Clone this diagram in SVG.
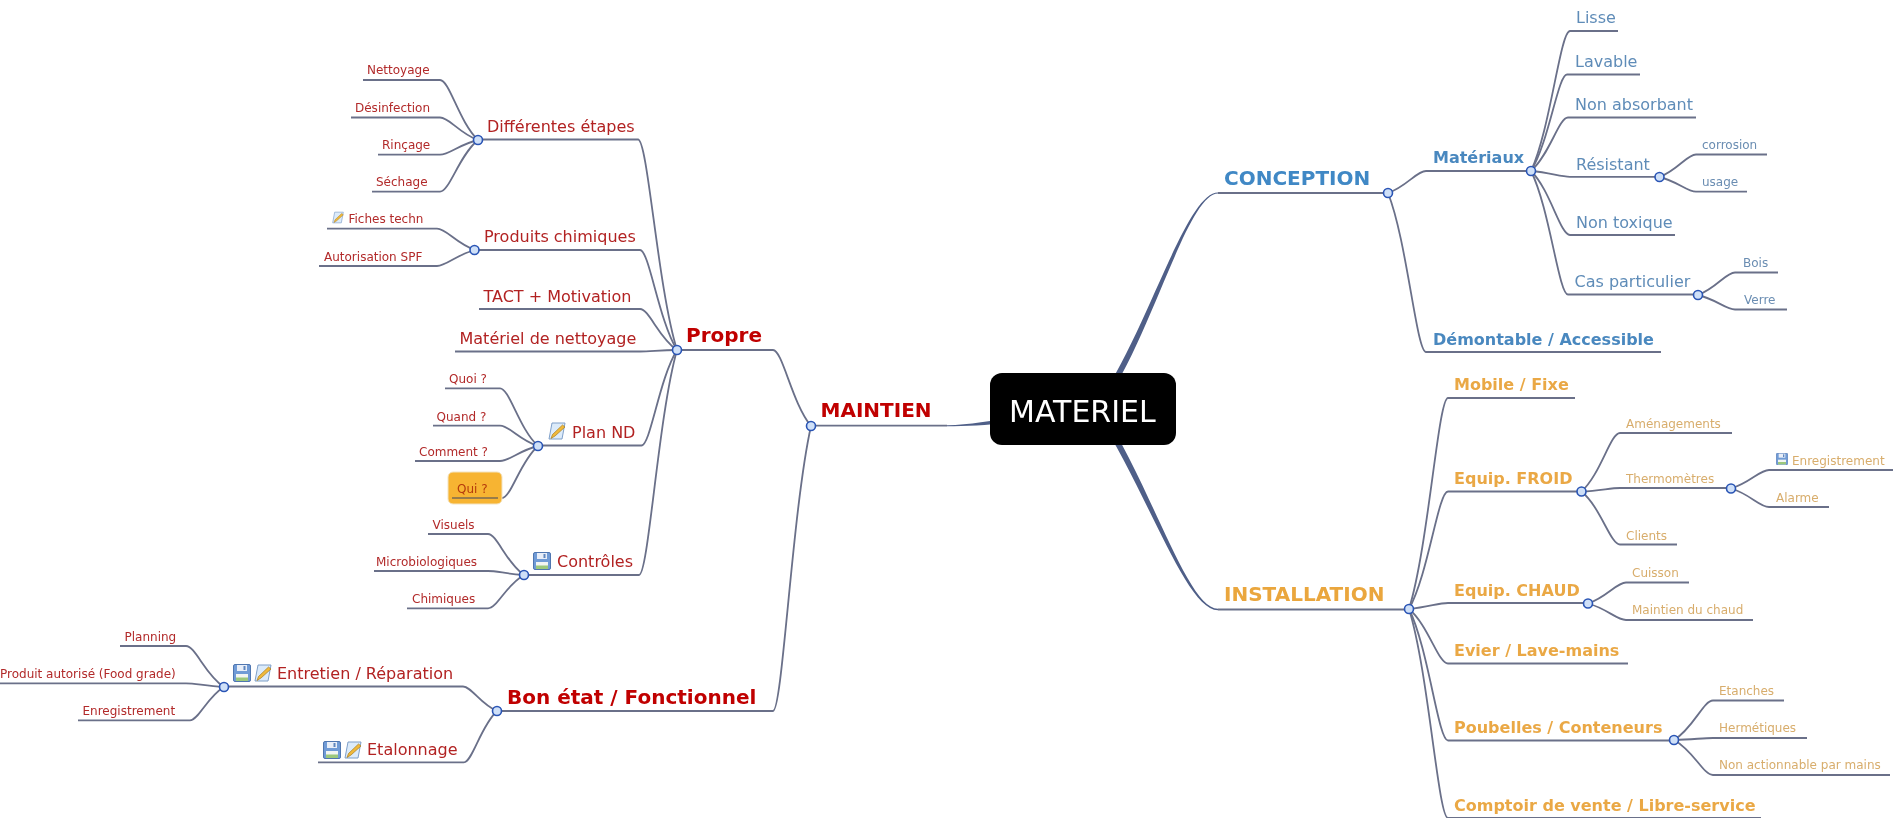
<svg xmlns="http://www.w3.org/2000/svg" width="1893" height="822" viewBox="0 0 1893 822">
<style>
text{font-family:"DejaVu Sans",Verdana,sans-serif;white-space:pre}
.c{fill:none;stroke:#6a7089;stroke-width:1.8}
.t{fill:#4f5f88;stroke:none}
.d{fill:#cfe0f8;stroke:#2a55b5;stroke-width:1.6}
.b1{font-size:20px;font-weight:bold;fill:#3f88c5}.b2{font-size:16px;font-weight:bold;fill:#4a88bf}.b3{font-size:16px;fill:#5f8cb8}.b4{font-size:12px;fill:#6a8db2}
.o1{font-size:20px;font-weight:bold;fill:#eaa63c}.o2{font-size:16px;font-weight:bold;fill:#eaa845}.o4{font-size:12px;fill:#d8ad6c}
.r1{font-size:20px;font-weight:bold;fill:#c00000}.r3{font-size:16px;fill:#b22222}.r4{font-size:12px;fill:#b22a2a}
</style>
<defs>
<filter id="soft" x="0" y="0" width="100%" height="100%" filterUnits="objectBoundingBox"><feGaussianBlur stdDeviation="0.35"/></filter>
<symbol id="save" viewBox="0 0 18 18"><rect x="0.5" y="0.5" width="17" height="17" rx="1.5" fill="#6f9bd6" stroke="#4f76b0"/><rect x="4" y="1" width="10" height="6" fill="#e8eef8"/><rect x="10.5" y="2" width="2" height="4" fill="#5f86bd"/><rect x="3" y="10" width="12" height="7" fill="#f2f5f2"/><rect x="3" y="13.5" width="12" height="3.5" fill="#9cc87c"/></symbol>
<symbol id="note" viewBox="0 0 18 18"><path d="M4 1H17L14 17H1Z" fill="#dcebfa" stroke="#7f9fc8"/><path d="M17 5 L7 14 L3 16.5 L4.5 12.5 L14.5 3Z" fill="#f0b93a" stroke="#a87c20" stroke-width=".7"/></symbol>
</defs>
<rect width="1893" height="822" fill="#fff"/>
<g filter="url(#soft)">
<g id="connectors">
<path class="t" d="M1094,408C1145.5,338.5 1185,192.5 1218,192.5L1218,193.5C1187,193.5 1150.5,341.5 1100,410Z"/>
<path class="t" d="M1094,410C1145.5,485.5 1185,610.2 1218,610.2L1218,608.8C1187,608.8 1150.5,482.5 1100,408Z"/>
<path class="t" d="M1083,419C1016,421 983,427 947,426.2L947,425.2C983,425 1016,413 1083,414Z"/>
<path class="c" d="M1218,193H1388M1218,609.5H1409M947,425.7H811"/>
<path class="c" d="M1388,193C1407,186.4 1416.5,171 1426,171H1531"/>
<path class="c" d="M1388,193C1407,240.7 1416.5,352 1426,352H1661"/>
<path class="c" d="M1409,609C1428.5,545.7 1438.2,398 1448,398H1575"/>
<path class="c" d="M1409,609C1428.5,573.7 1438.2,491.5 1448,491.5H1581"/>
<path class="c" d="M1409,609C1428.5,607.2 1438.2,603 1448,603H1588"/>
<path class="c" d="M1409,609C1428.5,625.4 1438.2,663.5 1448,663.5H1628"/>
<path class="c" d="M1409,609C1428.5,648.5 1438.2,740.5 1448,740.5H1674"/>
<path class="c" d="M1409,609C1428.5,671.7 1438.2,818 1448,818H1761"/>
<path class="c" d="M1531,171C1550.5,129 1560.2,31 1570,31H1618"/>
<path class="c" d="M1531,171C1549,142 1558,74.5 1567,74.5H1640"/>
<path class="c" d="M1531,171C1549.5,155 1558.8,117.5 1568,117.5H1696"/>
<path class="c" d="M1531,171C1550.5,172.7 1560.2,176.8 1570,176.8H1659"/>
<path class="c" d="M1531,171C1550.5,190.2 1560.2,235 1570,235H1675"/>
<path class="c" d="M1531,171C1549.5,208 1558.8,294.5 1568,294.5H1698"/>
<path class="c" d="M1659.5,177C1677.8,170.2 1686.9,154.5 1696,154.5H1767"/>
<path class="c" d="M1659.5,177C1677.8,181.4 1686.9,191.7 1696,191.7H1747"/>
<path class="c" d="M1698,295C1716.5,288.2 1725.8,272.5 1735,272.5H1778"/>
<path class="c" d="M1698,295C1716.5,299.4 1725.8,309.5 1735,309.5H1787"/>
<path class="c" d="M1581.5,491.5C1600.8,474 1610.4,433 1620,433H1732"/>
<path class="c" d="M1581.5,491.5C1600.8,490.5 1610.4,488 1620,488H1731"/>
<path class="c" d="M1581.5,491.5C1600.8,507.4 1610.4,544.5 1620,544.5H1677"/>
<path class="c" d="M1731,488.5C1750,483 1759.5,470 1769,470H1893"/>
<path class="c" d="M1731,488.5C1750,494 1759.5,507 1769,507H1829"/>
<path class="c" d="M1588,603.5C1607,597.2 1616.5,582.5 1626,582.5H1689"/>
<path class="c" d="M1588,603.5C1607,608.5 1616.5,620 1626,620H1753"/>
<path class="c" d="M1674,740C1693.5,728.2 1703.2,700.5 1713,700.5H1784"/>
<path class="c" d="M1674,740C1693.5,739.4 1703.2,738 1713,738H1807"/>
<path class="c" d="M1674,740C1693.5,750.5 1703.2,775 1713,775H1890"/>
<path class="c" d="M811,426C792,403.2 782.5,350 773,350H677"/>
<path class="c" d="M811,426C792,511.5 782.5,711 773,711H497"/>
<path class="c" d="M677,350C657.5,286.9 647.8,139.5 638,139.5H478"/>
<path class="c" d="M677,350C658.5,320 649.2,250 640,250H475"/>
<path class="c" d="M677,350C658.5,337.7 649.2,309 640,309H479"/>
<path class="c" d="M677,350C658.5,350.5 649.2,351.5 640,351.5H455"/>
<path class="c" d="M677,350C659.2,378.6 650.4,445.5 641.5,445.5H538"/>
<path class="c" d="M677,350C658,417.5 648.5,575 639,575H524"/>
<path class="c" d="M478,140C459,122 449.5,80 440,80H363"/>
<path class="c" d="M478,140C459,133.2 449.5,117.5 440,117.5H351"/>
<path class="c" d="M478,140C459,144.4 449.5,154.7 440,154.7H378"/>
<path class="c" d="M478,140C459,155.5 449.5,191.7 440,191.7H372"/>
<path class="c" d="M475,250C456,243.6 446.5,228.7 437,228.7H327"/>
<path class="c" d="M475,250C456,254.8 446.5,266 437,266H319"/>
<path class="c" d="M538,446C519,428.7 509.5,388.3 500,388.3H445"/>
<path class="c" d="M538,446C519,439.9 509.5,425.7 500,425.7H433"/>
<path class="c" d="M538,446C519,450.5 509.5,461 500,461H415"/>
<path class="c" d="M538,446C520,461.6 511,498 502,498"/>
<path class="c" d="M524,575C506,562.7 497,534 488,534H428"/>
<path class="c" d="M524,575C506,573.8 497,571 488,571H374"/>
<path class="c" d="M524,575C506,585 497,608.3 488,608.3H407"/>
<path class="c" d="M497,711C480,703.6 471.5,686.5 463,686.5H224"/>
<path class="c" d="M497,711C480.5,726.4 472.2,762.3 464,762.3H318"/>
<path class="c" d="M224,687C205,674.7 195.5,646 186,646H120"/>
<path class="c" d="M224,687C205,685.9 195.5,683.3 186,683.3H0"/>
<path class="c" d="M224,687C207,697 198.5,720.3 190,720.3H78"/>
</g>
<g id="root"><rect x="990" y="373" width="186" height="72" rx="12" fill="#000"/><text x="1009" y="422" font-size="30" fill="#fff">MATERIEL</text></g>
<g id="conception"><text class="b1" x="1224" y="185">CONCEPTION</text><circle class="d" cx="1388" cy="193" r="4.5"/></g>
<g id="materiaux"><text class="b2" x="1433" y="163">Matériaux</text><circle class="d" cx="1531" cy="171" r="4.5"/></g>
<g id="lisse"><text class="b3" x="1576" y="23">Lisse</text></g>
<g id="lavable"><text class="b3" x="1575" y="67">Lavable</text></g>
<g id="non-absorbant"><text class="b3" x="1575" y="110">Non absorbant</text></g>
<g id="resistant"><text class="b3" x="1576" y="170">Résistant</text><circle class="d" cx="1659.5" cy="177" r="4.5"/></g>
<g id="corrosion"><text class="b4" x="1702" y="149">corrosion</text></g>
<g id="usage"><text class="b4" x="1702" y="186">usage</text></g>
<g id="non-toxique"><text class="b3" x="1576" y="228">Non toxique</text></g>
<g id="cas"><text class="b3" x="1574.5" y="287">Cas particulier</text><circle class="d" cx="1698" cy="295" r="4.5"/></g>
<g id="bois"><text class="b4" x="1743" y="267">Bois</text></g>
<g id="verre"><text class="b4" x="1744" y="304">Verre</text></g>
<g id="demontable"><text class="b2" x="1433" y="345">Démontable / Accessible</text></g>
<g id="installation"><text class="o1" x="1224" y="601">INSTALLATION</text><circle class="d" cx="1409" cy="609" r="4.5"/></g>
<g id="mobile"><text class="o2" x="1454" y="390">Mobile / Fixe</text></g>
<g id="froid"><text class="o2" x="1454" y="484">Equip. FROID</text><circle class="d" cx="1581.5" cy="491.5" r="4.5"/></g>
<g id="amenagements"><text class="o4" x="1626" y="428">Aménagements</text></g>
<g id="thermometres"><text class="o4" x="1626" y="483">Thermomètres</text><circle class="d" cx="1731" cy="488.5" r="4.5"/></g>
<g id="enreg-o"><use href="#save" x="1776" y="453" width="12" height="12"/><text class="o4" x="1792" y="465">Enregistrement</text></g>
<g id="alarme"><text class="o4" x="1776" y="502">Alarme</text></g>
<g id="clients"><text class="o4" x="1626" y="540">Clients</text></g>
<g id="chaud"><text class="o2" x="1454" y="596">Equip. CHAUD</text><circle class="d" cx="1588" cy="603.5" r="4.5"/></g>
<g id="cuisson"><text class="o4" x="1632" y="577">Cuisson</text></g>
<g id="maintien-chaud"><text class="o4" x="1632" y="614">Maintien du chaud</text></g>
<g id="evier"><text class="o2" x="1454" y="656">Evier / Lave-mains</text></g>
<g id="poubelles"><text class="o2" x="1454" y="733">Poubelles / Conteneurs</text><circle class="d" cx="1674" cy="740" r="4.5"/></g>
<g id="etanches"><text class="o4" x="1719" y="695">Etanches</text></g>
<g id="hermetiques"><text class="o4" x="1719" y="732">Hermétiques</text></g>
<g id="non-actionnable"><text class="o4" x="1719" y="769">Non actionnable par mains</text></g>
<g id="comptoir"><text class="o2" x="1454" y="810.5">Comptoir de vente / Libre-service</text></g>
<g id="maintien"><text class="r1" x="820.5" y="417">MAINTIEN</text><circle class="d" cx="811" cy="426" r="4.5"/></g>
<g id="propre"><text class="r1" x="686" y="342">Propre</text><circle class="d" cx="677" cy="350" r="4.5"/></g>
<g id="etapes"><text class="r3" x="487" y="132">Différentes étapes</text><circle class="d" cx="478" cy="140" r="4.5"/></g>
<g id="nettoyage"><text class="r4" x="367" y="74">Nettoyage</text></g>
<g id="desinfection"><text class="r4" x="355" y="111.5">Désinfection</text></g>
<g id="rincage"><text class="r4" x="382" y="149">Rinçage</text></g>
<g id="sechage"><text class="r4" x="376" y="186">Séchage</text></g>
<g id="produits"><text class="r3" x="484" y="242">Produits chimiques</text><circle class="d" cx="474.5" cy="250" r="4.5"/></g>
<g id="fiches"><use href="#note" x="332" y="211" width="12" height="13"/><text class="r4" x="348.5" y="223">Fiches techn</text></g>
<g id="autorisation"><text class="r4" x="324" y="260.5">Autorisation SPF</text></g>
<g id="tact"><text class="r3" x="483.5" y="302">TACT + Motivation</text></g>
<g id="materiel-nett"><text class="r3" x="459.5" y="344">Matériel de nettoyage</text></g>
<g id="plan"><use href="#note" x="548" y="422" width="18" height="18"/><text class="r3" x="572" y="437.5">Plan ND</text><circle class="d" cx="538" cy="446" r="4.5"/></g>
<g id="quoi"><text class="r4" x="449" y="383">Quoi ?</text></g>
<g id="quand"><text class="r4" x="436.5" y="420.5">Quand ?</text></g>
<g id="comment"><text class="r4" x="419" y="456">Comment ?</text></g>
<g id="qui"><rect x="448" y="472" width="54" height="32" rx="5" fill="#f7b432" stroke="#f3e3c0"/><path fill="none" stroke="#7a6a50" stroke-width="1.6" d="M452,498H498"/><text x="457" y="493" font-size="12" fill="#b53a0c">Qui ?</text></g>
<g id="controles"><use href="#save" x="533" y="552" width="18" height="18"/><text class="r3" x="557" y="567">Contrôles</text><circle class="d" cx="524" cy="575" r="4.5"/></g>
<g id="visuels"><text class="r4" x="432.5" y="529">Visuels</text></g>
<g id="microbio"><text class="r4" x="376" y="566">Microbiologiques</text></g>
<g id="chimiques"><text class="r4" x="412" y="603">Chimiques</text></g>
<g id="bon-etat"><text class="r1" x="507" y="703.5">Bon état / Fonctionnel</text><circle class="d" cx="497" cy="711" r="4.5"/></g>
<g id="entretien"><use href="#save" x="233" y="664" width="18" height="18"/><use href="#note" x="254" y="664" width="18" height="18"/><text class="r3" x="277" y="679">Entretien / Réparation</text><circle class="d" cx="224" cy="687" r="4.5"/></g>
<g id="planning"><text class="r4" x="124.5" y="641">Planning</text></g>
<g id="produit-auto"><text class="r4" x="0" y="678">Produit autorisé (Food grade)</text></g>
<g id="enreg-r"><text class="r4" x="82.5" y="715">Enregistrement</text></g>
<g id="etalonnage"><use href="#save" x="323" y="741" width="18" height="18"/><use href="#note" x="344" y="741" width="18" height="18"/><text class="r3" x="367" y="755">Etalonnage</text></g>
</g>
</svg>
